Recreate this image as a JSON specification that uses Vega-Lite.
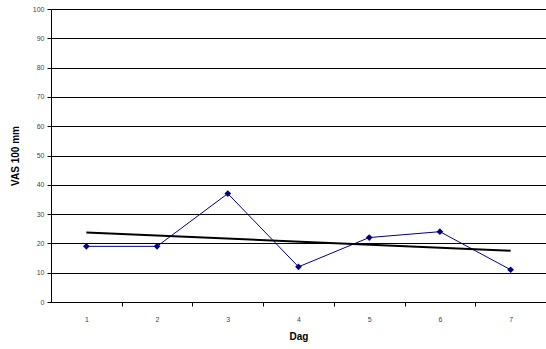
{
  "$schema": "https://vega.github.io/schema/vega-lite/v6.json",
  "width": 495,
  "height": 293,
  "autosize": {"type": "none"},
  "padding": {"left": 51, "top": 9, "right": 0, "bottom": 47},
  "background": "white",
  "config": {"view": {"stroke": null}, "font": "Liberation Sans"},
  "data": {
    "values": [
      {"dag": 1, "value": 19, "series": "VAS"},
      {"dag": 2, "value": 19, "series": "VAS"},
      {"dag": 3, "value": 37, "series": "VAS"},
      {"dag": 4, "value": 12, "series": "VAS"},
      {"dag": 5, "value": 22, "series": "VAS"},
      {"dag": 6, "value": 24, "series": "VAS"},
      {"dag": 7, "value": 11, "series": "VAS"},
      {"dag": 1, "value": 23.7, "series": "Trend"},
      {"dag": 7, "value": 17.5, "series": "Trend"}
    ]
  },
  "encoding": {
    "x": {
      "field": "dag",
      "type": "quantitative",
      "scale": {"domain": [0.5, 7.5], "nice": false, "zero": false},
      "axis": {
        "title": "Dag",
        "titleFontSize": 10,
        "titleFontWeight": "bold",
        "titleColor": "black",
        "titlePadding": 9,
        "values": [1, 1.5, 2, 2.5, 3, 3.5, 4, 4.5, 5, 5.5, 6, 6.5, 7],
        "labelExpr": "datum.value % 1 === 0 ? format(datum.value, 'd') : ''",
        "labelFontSize": 7,
        "labelColor": "#444444",
        "labelPadding": 9,
        "tickColor": {"condition": {"test": "datum.value % 1 === 0", "value": "transparent"}, "value": "black"},
        "tickSize": 4,
        "domainColor": "black",
        "domainWidth": 1,
        "grid": false
      }
    },
    "y": {
      "field": "value",
      "type": "quantitative",
      "scale": {"domain": [0, 100], "nice": false},
      "axis": {
        "title": "VAS 100 mm",
        "titleFontSize": 10,
        "titleFontWeight": "bold",
        "titleColor": "black",
        "titlePadding": 12,
        "values": [0, 10, 20, 30, 40, 50, 60, 70, 80, 90, 100],
        "labelFontSize": 7,
        "labelColor": "#444444",
        "labelPadding": 3,
        "labelOverlap": false,
        "tickColor": "black",
        "tickSize": 4,
        "domainColor": "black",
        "grid": true,
        "gridColor": "black",
        "gridWidth": 1,
        "gridOpacity": 1
      }
    }
  },
  "layer": [
    {
      "transform": [{"filter": "datum.series === 'VAS'"}],
      "mark": {"type": "line", "color": "#000080", "strokeWidth": 1, "point": {"shape": "diamond", "size": 45, "filled": true, "color": "#000080"}}
    },
    {
      "transform": [{"filter": "datum.series === 'Trend'"}],
      "mark": {"type": "line", "color": "black", "strokeWidth": 2}
    }
  ]
}
